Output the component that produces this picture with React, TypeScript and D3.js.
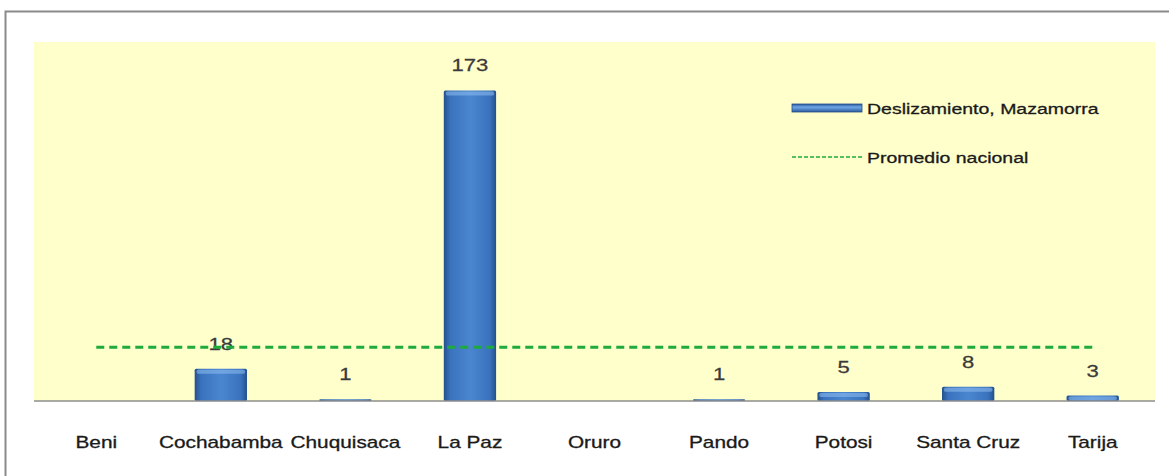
import * as d3 from 'd3';

const departamentos = ['Beni', 'Cochabamba', 'Chuquisaca', 'La Paz', 'Oruro', 'Pando', 'Potosi', 'Santa Cruz', 'Tarija'];
const deslizamientos: (number | null)[] = [null, 18, 1, 173, null, 1, 5, 8, 3];
const promedioNacional = 29.9;
const yDomain = [0, 200];
const legendLabels = ['Deslizamiento, Mazamorra', 'Promedio nacional'];

const W = 1169;
const H = 476;
const plot = { left: 34, top: 42, right: 1155, bottom: 401 };
const SX = 1.3;
const FONT = 'Liberation Sans, Arial, sans-serif';

export default function App() {
  const x = d3
    .scaleBand<string>()
    .domain(departamentos)
    .range([plot.left, plot.right])
    .paddingInner(0.58)
    .paddingOuter(0.29);
  const band = d3.scaleBand<string>().domain(departamentos).range([plot.left, plot.right]);
  const y = d3.scaleLinear().domain(yDomain).range([plot.bottom, plot.top]);
  const cx = (d: string) => band(d)! + band.bandwidth() / 2;

  const avgLine = d3.line<string>().x((d) => cx(d)).y(() => y(promedioNacional));
  const ends = [departamentos[0], departamentos[departamentos.length - 1]];

  return (
    <svg width={W} height={H} style={{ position: 'absolute', left: 0, top: 0, display: 'block' }}>
      <defs>
        <linearGradient id="barGrad" x1="0" x2="1" y1="0" y2="0">
          <stop offset="0" stopColor="#24508c" />
          <stop offset="0.12" stopColor="#3a72bd" />
          <stop offset="0.5" stopColor="#4a86d0" />
          <stop offset="0.88" stopColor="#3a72bd" />
          <stop offset="1" stopColor="#24508c" />
        </linearGradient>
        <linearGradient id="legGrad" x1="0" x2="0" y1="0" y2="1">
          <stop offset="0" stopColor="#2a5a9c" />
          <stop offset="0.4" stopColor="#6ea6e6" />
          <stop offset="1" stopColor="#2a5a9c" />
        </linearGradient>
        <clipPath id="legClip">
          <rect x={780} y={90} width={323} height={90} />
        </clipPath>
      </defs>
      <rect x={0} y={0} width={W} height={H} fill="#fff" />
      <rect x={5.5} y={11.5} width={W} height={H} fill="#fff" stroke="#8a8a8a" strokeWidth={2} />
      <rect
        x={plot.left}
        y={plot.top}
        width={plot.right - plot.left}
        height={plot.bottom - plot.top}
        fill="#ffffcc"
      />

      {departamentos.map((d, i) => {
        const v = deslizamientos[i];
        if (v == null) return null;
        const top = y(v);
        const h = plot.bottom - top;
        return (
          <g key={d}>
            <rect x={x(d)} y={top} width={x.bandwidth()} height={h} fill="url(#barGrad)" rx={1.5} />
            {h > 4 && (
              <rect
                x={x(d)! + 2}
                y={top + 1}
                width={x.bandwidth() - 4}
                height={Math.min(4, h - 2)}
                fill="#8fbff0"
                opacity={0.55}
                rx={1.5}
              />
            )}
            <text
              transform={`translate(${cx(d)},${top - 19}) scale(${SX},1)`}
              textAnchor="middle"
              fontFamily={FONT}
              fontSize={17}
              fill="#3a3a3a"
              stroke="#3a3a3a"
              strokeWidth={0.25}
            >
              {v}
            </text>
          </g>
        );
      })}

      <line x1={plot.left} x2={plot.right} y1={plot.bottom} y2={plot.bottom} stroke="#8c8c8c" strokeWidth={1.5} />

      <path d={avgLine(ends) ?? ''} stroke="#1eab3c" strokeWidth={3} strokeDasharray="8 5" fill="none" />

      {departamentos.map((d) => (
        <text
          key={d}
          transform={`translate(${cx(d)},448) scale(${SX},1)`}
          textAnchor="middle"
          fontFamily={FONT}
          fontSize={16}
          fill="#1a1a1a"
          stroke="#1a1a1a"
          strokeWidth={0.3}
        >
          {d}
        </text>
      ))}

      <g clipPath="url(#legClip)">
        <rect x={792} y={104} width={70} height={8} fill="url(#legGrad)" stroke="#234f8a" strokeWidth={0.8} />
        <text
          transform={`translate(867,114) scale(${SX},1)`}
          fontFamily={FONT}
          fontSize={15}
          fill="#1a1a1a"
          stroke="#1a1a1a"
          strokeWidth={0.3}
        >
          {legendLabels[0]}
        </text>
        <line x1={792} x2={862} y1={157} y2={157} stroke="#1eab3c" strokeWidth={1.5} strokeDasharray="4 2" />
        <text
          transform={`translate(867,163) scale(${SX},1)`}
          fontFamily={FONT}
          fontSize={15}
          fill="#1a1a1a"
          stroke="#1a1a1a"
          strokeWidth={0.3}
        >
          {legendLabels[1]}
        </text>
      </g>
    </svg>
  );
}
